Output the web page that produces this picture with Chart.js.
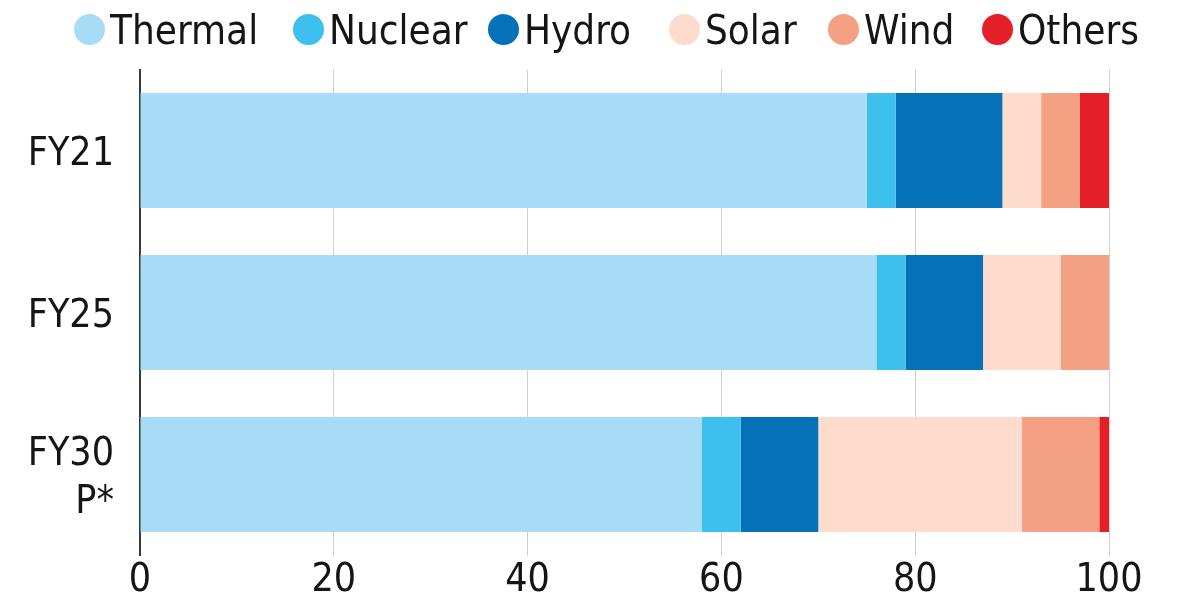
<!DOCTYPE html>
<html><head><meta charset="utf-8">
<script src="https://cdn.jsdelivr.net/npm/chart.js@4.4.1/dist/chart.umd.min.js"></script>
<style>
html,body{margin:0;padding:0;background:#fff;}
#wrap{position:relative;width:1183px;height:603px;}
canvas{display:block;}
#legend{position:absolute;left:0;top:0;width:1183px;height:60px;
  font-family:"DejaVu Sans Condensed","DejaVu Sans",sans-serif;font-size:40px;color:#151515;line-height:40px;}
.item{position:absolute;top:0;height:60px;}
.dot{position:absolute;left:0;top:13.5px;width:31px;height:31px;border-radius:50%;}
.txt{position:absolute;left:36px;top:10px;white-space:nowrap;}
</style></head>
<body><div id="wrap"><canvas id="c" width="1183" height="603"></canvas><div id="legend"></div></div>
<script>
const categories = ['FY21', 'FY25', ['FY30', 'P*']];
const seriesNames = ['Thermal', 'Nuclear', 'Hydro', 'Solar', 'Wind', 'Others'];
const thermal = [75, 76, 58];
const nuclear = [3, 3, 4];
const hydro   = [11, 8, 8];
const solar   = [4, 8, 21];
const wind    = [4, 5, 8];
const others  = [3, 0, 1];
const xTicks  = [0, 20, 40, 60, 80, 100];
const colors  = ['#a7dcf6', '#3dc0ee', '#0571b8', '#fddccd', '#f3a083', '#e41f27'];
const legendX = [74, 293, 488, 669, 828, 982];

const values = [thermal, nuclear, hydro, solar, wind, others];
const FONT = '"DejaVu Sans Condensed","DejaVu Sans",sans-serif';

const chart = new Chart(document.getElementById('c'), {
  type: 'bar',
  data: {
    labels: categories,
    datasets: seriesNames.map((n, i) => ({
      label: n, data: values[i], backgroundColor: colors[i], borderWidth: 0,
      barPercentage: 0.71, categoryPercentage: 1.0
    }))
  },
  options: {
    indexAxis: 'y',
    responsive: false,
    animation: false,
    layout: { padding: { top: 69.5, right: 74, left: 0, bottom: 0 } },
    plugins: { legend: { display: false }, tooltip: { enabled: false } },
    scales: {
      x: {
        stacked: true, min: 0, max: 100,
        afterBuildTicks: (s) => { s.ticks = xTicks.map(v => ({ value: v })); },
        afterFit: (s) => { s.height = 47.5; s.paddingLeft = 0; s.paddingRight = 0; },
        grid: { color: (c) => c.tick && c.tick.value === 0 ? 'rgba(0,0,0,0)' : '#cfcfcf', lineWidth: 1, drawTicks: false },
        border: { display: false },
        ticks: { color: '#151515', padding: 6, font: { family: FONT, size: 39, lineHeight: 1 } }
      },
      y: {
        stacked: true,
        afterFit: (s) => { s.width = 140; s.paddingTop = 0; s.paddingBottom = 0; },
        grid: { display: false, drawTicks: false },
        border: { display: true, color: '#3a3a3a', width: 2 },
        ticks: { color: '#151515', padding: 26, labelOffset: 4, font: { family: FONT, size: 39, lineHeight: 1.23 } }
      }
    }
  }
});

const lg = document.getElementById('legend');
seriesNames.forEach((n, i) => {
  const it = document.createElement('div'); it.className = 'item'; it.style.left = legendX[i] + 'px';
  const d = document.createElement('span'); d.className = 'dot'; d.style.background = colors[i];
  const t = document.createElement('span'); t.className = 'txt'; t.textContent = n;
  it.appendChild(d); it.appendChild(t); lg.appendChild(it);
});
</script>
</body></html>
